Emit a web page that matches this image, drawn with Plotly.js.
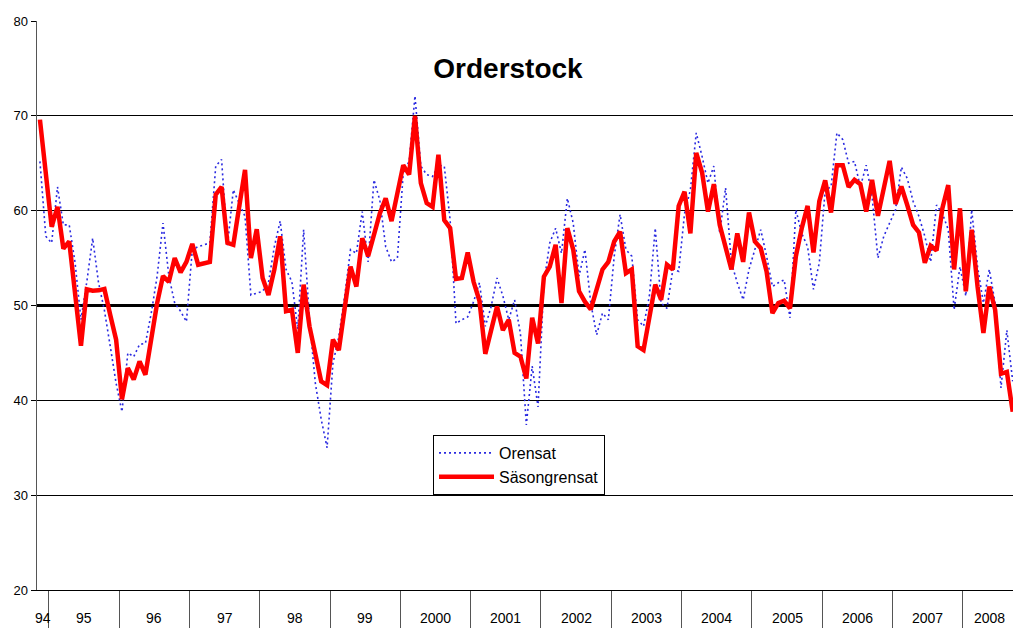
<!DOCTYPE html>
<html>
<head>
<meta charset="utf-8">
<script src="https://cdn.plot.ly/plotly-3.0.1.min.js"></script>
<style>
  html, body { margin: 0; padding: 0; background: #fff; }
  #chart { width: 1013px; height: 628px; }
</style>
</head>
<body>
<div id="chart"></div>
<script>
// Monthly data, Nov 1994 - Sep 2008
const yearLabels = ['94','95','96','97','98','99','2000','2001','2002','2003','2004','2005','2006','2007','2008'];
const monthsPerYear = [2,12,12,12,12,12,12,12,12,12,12,12,12,12,9];

const orensat = [
  65.2, 57.3,
  56.6, 62.5, 58.5, 58.5, 54.5, 48.5, 52.5, 57.1, 52.4, 49.5, 45.7, 41.8,
  38.8, 45.0, 44.6, 45.9, 46.0, 49.2, 53.1, 58.7, 53.1, 50.25, 49.4, 48.3,
  55.9, 56.2, 56.4, 56.6, 64.7, 65.4, 56.3, 62.2, 60.8, 59.4, 51.1, 51.3,
  51.5, 52.4, 56.2, 58.9, 53.8, 52.5, 47.5, 58.0, 48.5, 41.8, 38.0, 35.0,
  43.9, 46.7, 51.0, 55.9, 55.5, 59.9, 54.6, 63.25, 61.1, 56.2, 54.6, 55.0,
  64.0, 65.2, 72.1, 64.7, 63.8, 63.6, 64.8, 64.7, 59.0, 48.1, 48.5, 48.8,
  50.4, 52.4, 47.8, 49.9, 52.9, 51.0, 48.5, 50.6, 47.0, 37.4, 43.6, 39.3,
  52.4, 56.6, 58.15, 55.5, 61.3, 58.7, 53.1, 55.9, 50.25, 46.9, 49.2, 48.5,
  55.2, 59.6, 55.9, 55.2, 48.5, 47.8, 51.0, 58.15, 50.25, 49.7, 53.8, 53.6,
  59.7, 62.2, 68.2, 65.7, 62.9, 64.7, 57.6, 62.4, 54.5, 52.4, 50.6, 53.8,
  55.9, 58.0, 55.2, 52.0, 52.4, 52.7, 48.7, 60.1, 57.6, 56.2, 51.7, 54.5,
  62.2, 62.5, 68.2, 67.5, 65.0, 65.2, 62.5, 64.8, 61.5, 55.0, 57.3, 58.7,
  60.1, 64.6, 63.4, 61.0, 59.4, 57.3, 54.6, 60.6, 59.7, 58.0, 49.55, 54.1,
  51.0, 60.1, 54.1, 50.25, 53.8, 50.25, 41.3, 47.4, 42.0
];

const sasongrensat = [
  69.6, 64.0,
  58.3, 60.4, 56.0, 56.75, 51.1, 45.75, 51.7, 51.55, 51.6, 51.75, 49.0, 46.4,
  40.1, 43.4, 42.2, 44.1, 42.7, 46.7, 50.25, 53.1, 52.5, 55.0, 53.5, 54.6,
  56.5, 54.3, 54.4, 54.6, 61.7, 62.5, 56.6, 56.4, 60.4, 64.3, 55.0, 58.05,
  52.9, 51.1, 53.8, 57.3, 49.4, 49.55, 45.0, 52.2, 47.8, 45.0, 42.0, 41.6,
  46.4, 45.3, 49.9, 54.1, 52.0, 57.1, 55.2, 57.3, 59.7, 61.3, 58.9, 61.85,
  64.8, 63.8, 70.0, 62.9, 60.8, 60.4, 65.9, 59.0, 58.15, 52.8, 52.9, 55.6,
  52.5, 50.5, 44.9, 47.4, 49.9, 47.4, 48.5, 45.0, 44.6, 42.3, 48.7, 46.0,
  53.05, 54.1, 56.4, 50.25, 58.15, 55.9, 51.5, 50.4, 49.6, 51.7, 53.8, 54.6,
  56.75, 57.8, 53.4, 53.8, 45.7, 45.3, 48.8, 52.2, 50.6, 54.3, 53.8, 60.5,
  62.0, 57.6, 66.1, 64.0, 59.9, 62.8, 58.5, 56.2, 53.8, 57.6, 54.6, 59.8,
  56.75, 56.05, 53.6, 49.2, 50.25, 50.5, 49.7, 55.2, 58.15, 60.5, 55.6, 61.0,
  63.2, 59.8, 64.8, 64.8, 62.5, 63.25, 62.8, 59.9, 63.25, 59.45, 62.2, 65.25,
  60.7, 62.55, 60.6, 58.5, 57.7, 54.5, 56.3, 55.8, 60.25, 62.7, 53.8, 60.25,
  51.5, 58.0, 52.0, 47.1, 52.0, 49.55, 42.8, 43.0, 38.8
];

const yTicks = [20, 30, 40, 50, 60, 70, 80];
const referenceLevel = 50;

// month index positions
const xIdx = orensat.map((_, i) => i);

// year boundaries and centers (in month-index units)
const boundaries = [];
const centers = [];
let start = -0.5;
monthsPerYear.forEach((m, k) => {
  centers.push(start + m / 2);
  start += m;
  if (k < monthsPerYear.length - 1) boundaries.push(start);
});

const FONT = 'Liberation Sans, Arial, sans-serif';

const traces = [
  {
    x: xIdx, y: orensat, type: 'scatter', mode: 'lines', name: 'Orensat',
    line: { color: '#2a2ae0', width: 1.6, dash: '2px,3px' }
  },
  {
    x: xIdx, y: sasongrensat, type: 'scatter', mode: 'lines', name: 'Säsongrensat',
    line: { color: '#ff0000', width: 4.5 }
  }
];

const annotations = yearLabels.map((t, k) => ({
  text: t, x: centers[k], xref: 'x', y: -28 / 569, yref: 'paper',
  yanchor: 'middle', xanchor: 'center', showarrow: false,
  font: { family: FONT, size: 14, color: '#000' }
}));

const layout = {
  width: 1013, height: 628,
  margin: { l: 37, r: 0, t: 21, b: 38 },
  paper_bgcolor: '#fff', plot_bgcolor: '#fff',
  font: { family: FONT, size: 13, color: '#000' },
  title: {
    text: '<b>Orderstock</b>',
    font: { family: FONT, size: 28, color: '#000' },
    xref: 'container', x: 508 / 1013, xanchor: 'center',
    yref: 'container', y: 1 - 68 / 628, yanchor: 'middle'
  },
  xaxis: {
    range: [-0.5, orensat.length - 0.95],
    tickmode: 'array', tickvals: boundaries, showticklabels: false,
    ticks: 'outside', ticklen: 40, tickwidth: 1, tickcolor: '#555',
    showgrid: false, zeroline: false,
    showline: true, linecolor: '#000', linewidth: 1, fixedrange: true
  },
  yaxis: {
    range: [20, 80], tickmode: 'array', tickvals: yTicks,
    ticks: 'outside', ticklen: 5, tickcolor: '#000', tickwidth: 1,
    showgrid: true, gridcolor: '#000', gridwidth: 1,
    zeroline: false, showline: true, linecolor: '#555', linewidth: 1.5,
    tickfont: { family: FONT, size: 13, color: '#000' }, fixedrange: true
  },
  shapes: [{
    type: 'line', xref: 'paper', x0: 0, x1: 1, yref: 'y', y0: referenceLevel, y1: referenceLevel,
    line: { color: '#000', width: 3 }, layer: 'below'
  }],
  annotations: annotations,
  showlegend: true,
  legend: {
    x: (433 - 37) / 976, xanchor: 'left',
    y: 1 - (435 - 21) / 569, yanchor: 'top',
    bgcolor: '#fff', bordercolor: '#000', borderwidth: 1,
    font: { family: FONT, size: 16, color: '#000' },
    itemwidth: 55, tracegroupgap: 0
  }
};

Plotly.newPlot('chart', traces, layout, { staticPlot: true, displayModeBar: false });
</script>
</body>
</html>
